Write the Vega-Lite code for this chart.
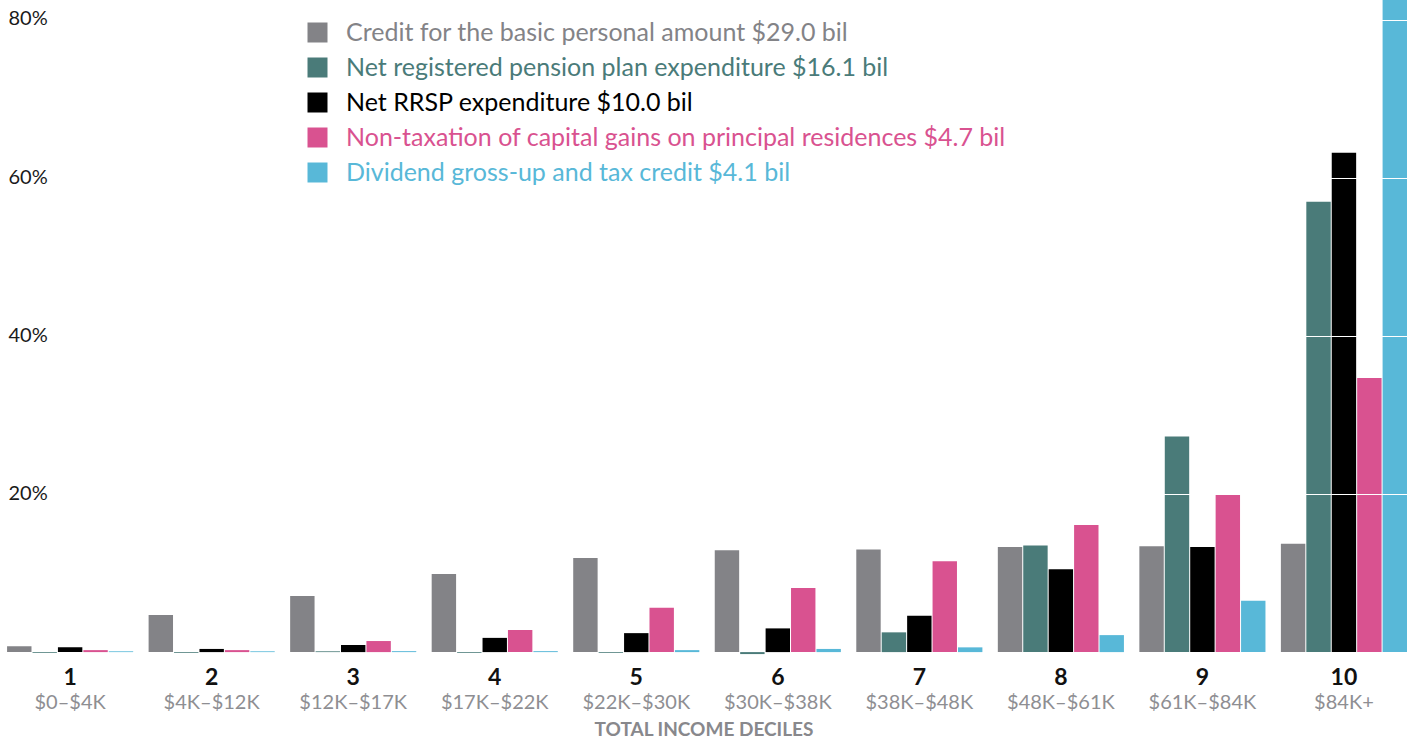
{
  "$schema": "https://vega.github.io/schema/vega-lite/v6.json",
  "width": 1407,
  "height": 660,
  "autosize": {"type": "none"},
  "padding": {"left": 0, "top": 0, "right": 0, "bottom": 80},
  "background": "white",
  "config": {"view": {"stroke": null}, "font": "Lato"},
  "data": {"values": [
    {"decile": 1, "series": "Credit for the basic personal amount", "value": 0.75},
    {"decile": 1, "series": "Net registered pension plan expenditure", "value": -0.1},
    {"decile": 1, "series": "Net RRSP expenditure", "value": 0.6},
    {"decile": 1, "series": "Non-taxation of capital gains on principal residences", "value": 0.25},
    {"decile": 1, "series": "Dividend gross-up and tax credit", "value": 0.1},
    {"decile": 2, "series": "Credit for the basic personal amount", "value": 4.7},
    {"decile": 2, "series": "Net registered pension plan expenditure", "value": -0.1},
    {"decile": 2, "series": "Net RRSP expenditure", "value": 0.4},
    {"decile": 2, "series": "Non-taxation of capital gains on principal residences", "value": 0.25},
    {"decile": 2, "series": "Dividend gross-up and tax credit", "value": 0.1},
    {"decile": 3, "series": "Credit for the basic personal amount", "value": 7.1},
    {"decile": 3, "series": "Net registered pension plan expenditure", "value": 0.1},
    {"decile": 3, "series": "Net RRSP expenditure", "value": 0.9},
    {"decile": 3, "series": "Non-taxation of capital gains on principal residences", "value": 1.4},
    {"decile": 3, "series": "Dividend gross-up and tax credit", "value": 0.12},
    {"decile": 4, "series": "Credit for the basic personal amount", "value": 9.9},
    {"decile": 4, "series": "Net registered pension plan expenditure", "value": -0.1},
    {"decile": 4, "series": "Net RRSP expenditure", "value": 1.8},
    {"decile": 4, "series": "Non-taxation of capital gains on principal residences", "value": 2.8},
    {"decile": 4, "series": "Dividend gross-up and tax credit", "value": 0.12},
    {"decile": 5, "series": "Credit for the basic personal amount", "value": 11.9},
    {"decile": 5, "series": "Net registered pension plan expenditure", "value": -0.1},
    {"decile": 5, "series": "Net RRSP expenditure", "value": 2.4},
    {"decile": 5, "series": "Non-taxation of capital gains on principal residences", "value": 5.6},
    {"decile": 5, "series": "Dividend gross-up and tax credit", "value": 0.25},
    {"decile": 6, "series": "Credit for the basic personal amount", "value": 12.9},
    {"decile": 6, "series": "Net registered pension plan expenditure", "value": -0.25},
    {"decile": 6, "series": "Net RRSP expenditure", "value": 3.0},
    {"decile": 6, "series": "Non-taxation of capital gains on principal residences", "value": 8.1},
    {"decile": 6, "series": "Dividend gross-up and tax credit", "value": 0.4},
    {"decile": 7, "series": "Credit for the basic personal amount", "value": 13.0},
    {"decile": 7, "series": "Net registered pension plan expenditure", "value": 2.5},
    {"decile": 7, "series": "Net RRSP expenditure", "value": 4.6},
    {"decile": 7, "series": "Non-taxation of capital gains on principal residences", "value": 11.5},
    {"decile": 7, "series": "Dividend gross-up and tax credit", "value": 0.6},
    {"decile": 8, "series": "Credit for the basic personal amount", "value": 13.3},
    {"decile": 8, "series": "Net registered pension plan expenditure", "value": 13.5},
    {"decile": 8, "series": "Net RRSP expenditure", "value": 10.5},
    {"decile": 8, "series": "Non-taxation of capital gains on principal residences", "value": 16.1},
    {"decile": 8, "series": "Dividend gross-up and tax credit", "value": 2.15},
    {"decile": 9, "series": "Credit for the basic personal amount", "value": 13.4},
    {"decile": 9, "series": "Net registered pension plan expenditure", "value": 27.3},
    {"decile": 9, "series": "Net RRSP expenditure", "value": 13.3},
    {"decile": 9, "series": "Non-taxation of capital gains on principal residences", "value": 20.0},
    {"decile": 9, "series": "Dividend gross-up and tax credit", "value": 6.5},
    {"decile": 10, "series": "Credit for the basic personal amount", "value": 13.7},
    {"decile": 10, "series": "Net registered pension plan expenditure", "value": 57.0},
    {"decile": 10, "series": "Net RRSP expenditure", "value": 63.2},
    {"decile": 10, "series": "Non-taxation of capital gains on principal residences", "value": 34.7},
    {"decile": 10, "series": "Dividend gross-up and tax credit", "value": 89.5}
  ]},
  "resolve": {"axis": {"x": "independent"}},
  "layer": [
    {
      "mark": {"type": "bar", "clip": true},
      "encoding": {
        "x": {
          "field": "decile", "type": "ordinal",
          "scale": {"paddingInner": 0.109, "paddingOuter": 0.025, "align": 1},
          "axis": {
            "orient": "bottom",
            "title": null, "domain": false, "ticks": false, "grid": false,
            "labelFont": "Lato", "labelFontSize": 23, "labelFontWeight": "bold",
            "labelColor": "#111111", "labelPadding": 6, "labelAngle": 0
          }
        },
        "xOffset": {
          "field": "series", "type": "nominal",
          "sort": ["Credit for the basic personal amount", "Net registered pension plan expenditure", "Net RRSP expenditure", "Non-taxation of capital gains on principal residences", "Dividend gross-up and tax credit"],
          "scale": {"paddingInner": 0.04}
        },
        "y": {
          "field": "value", "type": "quantitative",
          "scale": {"domain": [-1, 82.53], "nice": false, "zero": false},
          "axis": {
            "title": null, "domain": false, "ticks": false, "tickSize": 0,
            "values": [20, 40, 60, 80],
            "labelExpr": "datum.value + '%'",
            "labelAlign": "left", "labelPadding": -8, "labelBaseline": "middle", "labelOffset": -1,
            "labelFont": "Lato", "labelFontSize": 20, "labelColor": "#1a1a1a",
            "grid": true, "gridColor": "#ffffff", "gridWidth": 1.2, "gridOpacity": 1,
            "zindex": 1
          }
        },
        "color": {
          "field": "series", "type": "nominal",
          "sort": ["Credit for the basic personal amount", "Net registered pension plan expenditure", "Net RRSP expenditure", "Non-taxation of capital gains on principal residences", "Dividend gross-up and tax credit"],
          "scale": {
            "domain": ["Credit for the basic personal amount", "Net registered pension plan expenditure", "Net RRSP expenditure", "Non-taxation of capital gains on principal residences", "Dividend gross-up and tax credit"],
            "range": ["#838387", "#4a7b79", "#000000", "#d95290", "#58b8d8"]
          },
          "legend": {
            "title": null, "orient": "none", "legendX": 305, "legendY": 20,
            "direction": "vertical", "padding": 0, "zindex": 3,
            "symbolType": "square", "symbolSize": 400, "symbolStrokeWidth": 0, "symbolOpacity": 1,
            "labelFont": "Lato", "labelFontSize": 25, "labelOffset": 16, "labelLimit": 1000,
            "rowPadding": 9,
            "labelExpr": "datum.label + '  ' + ({'Credit for the basic personal amount': '$29.0 bil', 'Net registered pension plan expenditure': '$16.1 bil', 'Net RRSP expenditure': '$10.0 bil', 'Non-taxation of capital gains on principal residences': '$4.7 bil', 'Dividend gross-up and tax credit': '$4.1 bil'})[datum.label]",
            "encode": {"labels": {"update": {"fill": {"scale": "color", "field": "value"}}}}
          }
        }
      }
    },
    {
      "mark": {"type": "text", "text": ""},
      "encoding": {
        "x": {
          "field": "decile", "type": "ordinal",
          "axis": {
            "orient": "bottom",
            "title": "TOTAL INCOME DECILES", "domain": false, "ticks": false, "grid": false,
            "labelExpr": "({'1': '$0–$4K', '2': '$4K–$12K', '3': '$12K–$17K', '4': '$17K–$22K', '5': '$22K–$30K', '6': '$30K–$38K', '7': '$38K–$48K', '8': '$48K–$61K', '9': '$61K–$84K', '10': '$84K+'})[datum.label]",
            "labelFont": "Lato", "labelFontSize": 20, "labelColor": "#8e8e92", "labelPadding": 32, "labelAngle": 0,
            "titleFont": "Lato", "titleFontSize": 19, "titleFontWeight": "bold", "titleColor": "#88888c", "titlePadding": 8
          }
        }
      }
    }
  ]
}
